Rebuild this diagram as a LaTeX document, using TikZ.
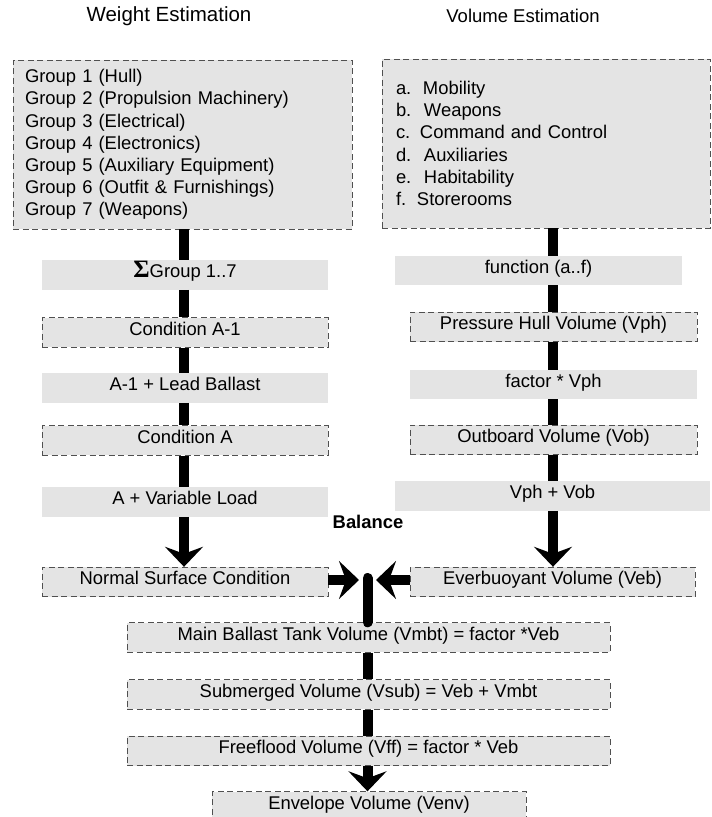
\documentclass[tikz,border=0pt]{standalone}
\usepackage{fontspec}
\setmainfont{Liberation Sans}
\newfontfamily\sigmafont{Liberation Serif}
\usetikzlibrary{arrows.meta}
\definecolor{boxgray}{HTML}{E4E4E4}
\definecolor{edgegray}{HTML}{505050}
\newcommand{\bodysize}{\fontsize{18.4}{22.2}\selectfont}
\tikzset{
  flowbox/.style={fill=boxgray, inner sep=0pt, minimum height=29.5pt,
    font=\bodysize, text height=0.72em, text depth=0.16em},
  dashbox/.style={flowbox, draw=edgegray, line width=0.9pt,
    dash pattern=on 6pt off 3.5pt},
  plainbox/.style={flowbox},
  listbox/.style={fill=boxgray, draw=edgegray, line width=0.9pt,
    dash pattern=on 6pt off 3.5pt, font=\bodysize, align=left,
    inner ysep=0pt, minimum height=169pt},
  heading/.style={font=\fontsize{#1}{22}\selectfont},
  flow/.style={line width=10pt, black},
  flowtip/.style={flow, -{Stealth[length=20pt,width=38pt,inset=7pt]}}
}
\begin{document}
\begin{tikzpicture}[x=1pt,y=-1pt]
\useasboundingbox (0,0) rectangle (712,817);

% headings
\node[heading=20.5] (wt) at (169,16) {Weight Estimation};
\node[heading=18.5] (vt) at (523,16) {Volume Estimation};

% ---- weight column ----
\node[listbox, minimum width=339pt, text width=315pt] (groups) at (182.5,144.5)
  {Group 1 (Hull)\\
   Group 2 (Propulsion Machinery)\\
   Group 3 (Electrical)\\
   Group 4 (Electronics)\\
   Group 5 (Auxiliary Equipment)\\
   Group 6 (Outfit \& Furnishings)\\
   Group 7 (Weapons)};
\coordinate (wx) at (184,0);
\coordinate (gs) at (groups.south -| wx);

\node[plainbox, minimum width=286pt] (sum) at (185,275)
  {{\sigmafont\bfseries\fontsize{25}{25}\selectfont\char"03A3}Group 1..7};
\node[dashbox, minimum width=286pt] (ca1) at (185,332.5) {Condition A-1};
\node[plainbox, minimum width=286pt] (lead) at (185,388) {A-1 + Lead Ballast};
\node[dashbox, minimum width=286pt] (ca) at (185,440.5) {Condition A};
\node[plainbox, minimum width=286pt] (var) at (185,502) {A + Variable Load};
\node[dashbox, minimum width=286pt] (nsc) at (185,582) {Normal Surface Condition};

% ---- volume column ----
\node[listbox, minimum width=328pt, text width=300pt] (areas) at (546,143.5)
  {\makebox[27pt][l]{a.}Mobility\\
   \makebox[28pt][l]{b.}Weapons\\
   \makebox[24pt][l]{c.}Command and Control\\
   \makebox[28pt][l]{d.}Auxiliaries\\
   \makebox[28pt][l]{e.}Habitability\\
   \makebox[21pt][l]{f.}Storerooms};
\coordinate (vx) at (553,0);
\coordinate (as) at (areas.south -| vx);

\node[plainbox, minimum width=287pt] (fun) at (538.5,270.5) {function (a..f)};
\node[dashbox, minimum width=287pt] (vph) at (553.5,327) {Pressure Hull Volume (Vph)};
\node[plainbox, minimum width=287pt] (fac) at (553.5,384.5) {factor * Vph};
\node[dashbox, minimum width=287pt] (vob) at (553.5,440) {Outboard Volume (Vob)};
\node[plainbox, minimum width=315pt] (sumv) at (552.5,496) {Vph + Vob};
\node[dashbox, minimum width=285pt] (veb) at (552.5,582) {Everbuoyant Volume (Veb)};

% ---- balance and envelope ----
\node[font=\bodysize\bfseries] (bal) at (368,522) {Balance};
\coordinate (join) at (367.5,578);
\coordinate (tipl) at (359,580);
\coordinate (tipr) at (376,580);

\node[dashbox, minimum width=483pt] (mbt) at (368.5,637.5)
  {Main Ballast Tank Volume (Vmbt) = factor *Veb};
\node[dashbox, minimum width=483pt] (vsub) at (368.5,694.5)
  {Submerged Volume (Vsub) = Veb + Vmbt};
\node[dashbox, minimum width=483pt] (vff) at (368.5,751)
  {Freeflood Volume (Vff) = factor * Veb};
\node[dashbox, minimum width=314pt] (env) at (369,806.5)
  {Envelope Volume (Venv)};

% ---- connectors (drawn last: boxes are opaque, lines join at box edges) ----
\draw[flow] (gs) -- (sum.north -| wx);
\draw[flow] (sum.south -| wx) -- (ca1.north -| wx);
\draw[flow] (ca1.south -| wx) -- (lead.north -| wx);
\draw[flow] (lead.south -| wx) -- (ca.north -| wx);
\draw[flow] (ca.south -| wx) -- (var.north -| wx);
\draw[flowtip] (var.south -| wx) -- (nsc.north -| wx);

\draw[flow] (as) -- (fun.north -| vx);
\draw[flow] (fun.south -| vx) -- (vph.north -| vx);
\draw[flow] (vph.south -| vx) -- (fac.north -| vx);
\draw[flow] (fac.south -| vx) -- (vob.north -| vx);
\draw[flow] (vob.south -| vx) -- (sumv.north -| vx);
\draw[flowtip] (sumv.south -| vx) -- (veb.north -| vx);

\draw[flowtip] (nsc.east |- tipl) -- (tipl);
\draw[flowtip] (veb.west |- tipr) -- (tipr);

\draw[flow, line cap=round] (join) -- (mbt.north -| join);
\draw[flow] (mbt.south -| join) -- (vsub.north -| join);
\draw[flow] (vsub.south -| join) -- (vff.north -| join);
\draw[flowtip] (vff.south -| join) -- (env.north -| join);
\end{tikzpicture}
\end{document}
